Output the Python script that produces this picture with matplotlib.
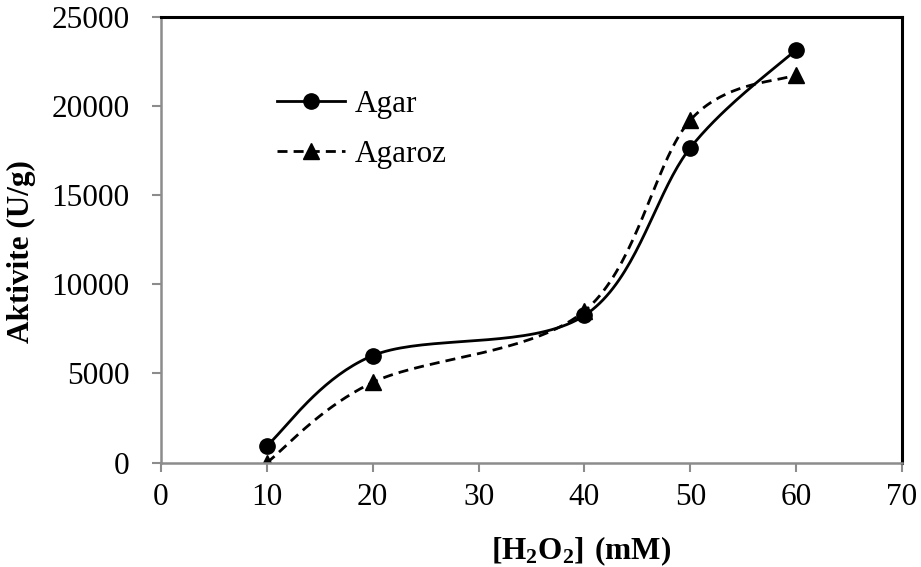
import matplotlib
matplotlib.use("Agg")
import matplotlib.pyplot as plt
import numpy as np

plt.rcParams["font.family"] = ["Liberation Serif", "DejaVu Serif"]
plt.rcParams["mathtext.fontset"] = "custom"
plt.rcParams["mathtext.rm"] = "Liberation Serif"
plt.rcParams["mathtext.bf"] = "Liberation Serif:bold"

h2o2 = [10, 20, 40, 50, 60]
agar = [950, 6000, 8250, 17650, 23150]
agaroz = [0, 4500, 8500, 19200, 21750]

x_ticks = [0, 10, 20, 30, 40, 50, 60, 70]
y_ticks = [0, 5000, 10000, 15000, 20000, 25000]

FS = 22.5
LW = 2.0
DASH = (3.6, 2.2)


def smooth(xs, ys, n=40):
    # Excel style smoothed line: Catmull-Rom segments as cubic Bezier
    p = np.column_stack([xs, ys]).astype(float)
    p = np.vstack([p[0], p, p[-1]])
    out = []
    t = np.linspace(0, 1, n)[:, None]
    for i in range(1, len(p) - 2):
        p0, p1, p2, p3 = p[i - 1], p[i], p[i + 1], p[i + 2]
        c1 = p1 + (p2 - p0) / 6.0
        c2 = p2 - (p3 - p1) / 6.0
        seg = ((1 - t) ** 3) * p1 + 3 * ((1 - t) ** 2) * t * c1 + 3 * (1 - t) * t ** 2 * c2 + t ** 3 * p2
        out.append(seg if i == 1 else seg[1:])
    out = np.vstack(out)
    return out[:, 0], out[:, 1]


fig = plt.figure(figsize=(9.21, 5.67), dpi=100)
ax = fig.add_axes([0.1748, 0.1840, 0.8046, 0.7866])

sx, sy = smooth(h2o2, agar)
ax.plot(sx, sy, color="black", lw=LW)
ax.plot(h2o2, agar, linestyle="none", marker="o", ms=11, color="black")

sx, sy = smooth(h2o2, agaroz)
ax.plot(sx, sy, color="black", lw=LW, dashes=DASH)
ax.plot(h2o2, agaroz, linestyle="none", marker="^", ms=11, color="black")

# legend handles
ax.plot([], [], color="black", lw=LW, marker="o", ms=11, label="Agar")
ax.plot([], [], color="black", lw=LW, dashes=DASH, marker="^", ms=11, label="Agaroz")
handles, labels = ax.get_legend_handles_labels()
ax.legend(handles, labels, loc="upper left", bbox_to_anchor=(277 / 921, 1 - 90 / 567),
          bbox_transform=fig.transFigure, frameon=False, fontsize=FS,
          handlelength=2.18, handletextpad=0.32, labelspacing=0.66,
          borderpad=0, borderaxespad=0)

ax.set_xlim(0, 70)
ax.set_ylim(0, 25000)
ax.set_xticks(x_ticks)
ax.set_yticks(y_ticks)
ax.tick_params(axis="both", labelsize=FS, direction="out", length=6.5, width=1.5,
               color="#8c8c8c")
ax.tick_params(axis="y", pad=16)
ax.tick_params(axis="x", pad=8)

for side in ["left", "bottom"]:
    ax.spines[side].set_color("#8c8c8c")
    ax.spines[side].set_linewidth(1.8)
for side in ["top", "right"]:
    ax.spines[side].set_color("black")
    ax.spines[side].set_linewidth(2.2)

ax.set_xlabel(r"$\mathbf{[H_2O_2]\ (mM)}$", fontsize=FS)
ax.xaxis.set_label_coords(0.567, -0.160)
ax.set_ylabel("Aktivite (U/g)", fontsize=FS, fontweight="bold")
ax.yaxis.set_label_coords(-0.1687, 0.474)

fig.savefig("out.png", dpi=100)
